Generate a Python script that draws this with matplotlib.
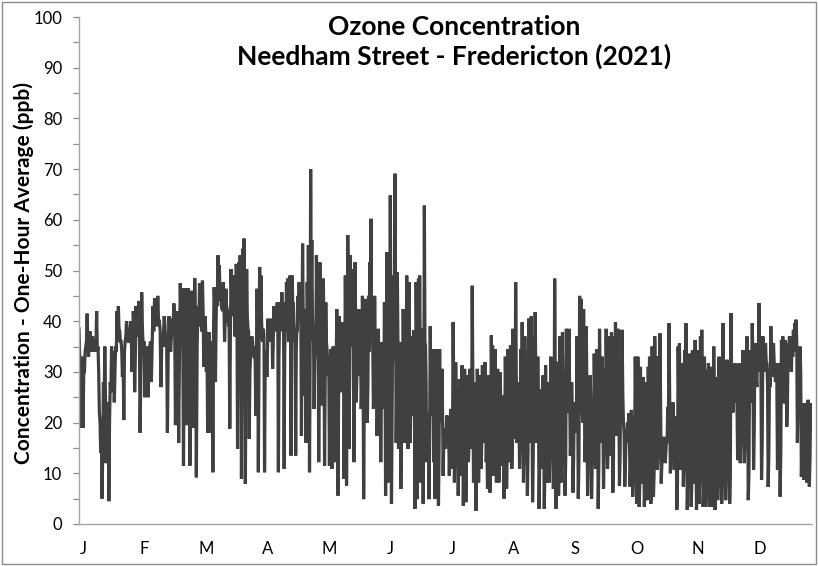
import numpy as np
import matplotlib
matplotlib.use("Agg")
import matplotlib.pyplot as plt
from matplotlib.patches import Rectangle
from matplotlib.ticker import MultipleLocator

# Hourly ozone (ppb), read per month from the reference picture.
# "peaks" lists follow the visible spikes / dips, "core" lists the dense dark band between them.
jan = [38.5, 19, 33, 19, 30, 35, 41.5, 33, 38, 34, 37, 34, 36, 42, 35, 22, 14, 5, 28, 35, 12, 20, 4.5, 28, 35,
       34, 24, 35, 42, 43, 38, 36, 29, 20.5, 36, 40, 37, 36, 40, 30, 42, 26, 43, 40, 44]
feb = [18, 45.7, 35, 25, 34.5, 25, 35, 28, 43, 44.5, 41, 45, 40, 27, 35, 41, 35, 18, 41, 34, 40.5, 43.5, 19.5,
       42, 16, 47.5, 46.5, 11.5, 46.5, 19.5, 46.5, 11.5, 46, 19, 48.5, 9.2, 43, 47.5]
mar = [39.8, 48, 31, 41, 30, 18, 37.8, 18, 29, 10.2, 46.7, 28, 46.7, 53, 51, 46.4, 42.4, 47.7, 36, 46.4, 42.4,
       39.8, 18.8, 50.3, 42.4, 49, 37, 51.3, 14.8, 51.6, 53, 8.9, 54.3, 56.3, 7.9, 50.3, 38.5, 16.8, 33, 37, 33,
       32.6, 21.4, 46.4, 10.2, 50.7, 49]
apr = [36.5, 38.5, 10.2, 33, 29, 40.5, 38.5, 37, 40.5, 30.6, 43, 39.8, 43, 43.7, 10.2, 39.8, 43.7, 45.7, 43.7,
       10.9, 38.5, 47.7, 48.4, 35.9, 49, 13.5, 49, 43.7, 35.9, 13.5, 38.5, 45, 47.7, 47, 17.4, 55.3, 42.4, 25.3,
       16, 47.7, 55, 10.2, 70, 56, 37, 22.7, 34.5, 53, 39.8, 12.2, 51.6, 23.4, 47.7]
may = [48.4, 11.5, 43.7, 34.5, 29.3, 11.5, 34.5, 10.9, 35, 12.2, 17.4, 42.4, 5.6, 41, 26, 39.8, 36.8, 8.9, 49,
       7.6, 57, 14.8, 53, 41, 50.3, 12.2, 51.6, 24, 42.4, 29.3, 42.4, 22.7, 45, 4.9, 44.4, 33, 20, 45, 51.6, 60.2,
       41, 22.7, 45, 33, 17.4, 38.5, 29.3, 12.2, 35.9, 22.7]
jun = [43.7, 5.6, 53.6, 8.2, 37.8, 64.8, 4, 39.8, 49, 69.1, 16, 49.7, 14.8, 35.9, 6.9, 34.5, 42.4, 16, 35.9, 49,
       14.8, 47.7, 16, 37, 21.4, 38.2, 3, 47.7, 4.9, 48.4, 49, 8.2, 38.5, 4, 62.8, 35.2, 12.2, 17.4, 4.9, 39, 21.4,
       34.5, 12.2, 5, 34.5, 17.4, 3.6, 34.5, 24, 30.6, 9.5, 18.8]
jul = [14.8, 21.4, 17.4, 9.5, 22.7, 10.9, 39.8, 8.2, 31.9, 16.8, 5.6, 28.6, 9.5, 31.3, 3.6, 30.6, 4.3, 29.3,
       12.2, 30.6, 14.8, 47, 8.2, 28, 2.6, 30.6, 8.2, 29.3, 10.9, 31.3, 16, 31.9, 12.2, 7, 29.3, 6.2, 37.2, 35.2,
       9.5, 34.5, 8.2, 30.6, 8.2, 29.9, 11.5, 25.3, 5, 33]
aug = [7, 34.5, 12.2, 35.2, 10.9, 38.5, 16.8, 47.7, 16, 27.9, 10.9, 34.5, 39.8, 8.2, 37, 27.9, 5.6, 40.5, 16, 41,
       4.3, 37, 41.8, 16, 33, 3, 26.6, 10.9, 29.3, 3, 31.3, 8.2, 28, 8.2, 33, 32, 6.9, 48.4, 3, 32, 5.6, 37, 8.2,
       37.8, 14.8, 5.6, 38.5]
sep = [29.3, 38.5, 13.5, 28, 6.2, 24, 18.8, 37, 5, 45, 44.4, 22, 42.4, 12.2, 39, 5.6, 20, 29.3, 5, 14.8, 33.6,
       10.9, 34.5, 3, 38.5, 16, 33, 7, 30.6, 38.5, 10.9, 37, 13.5, 37.8, 6.2, 37, 39.8, 17.4, 38.5, 7.5, 32.6,
       38.3, 20, 7.4, 18, 20]
oct_ = [21.8, 7.4, 22.5, 5.4, 16, 33, 4, 33, 3.4, 31, 8, 29, 3.4, 27.9, 4.7, 31, 33, 4, 35, 5.4, 37, 33, 10.7,
        33, 37.6, 8, 16.4, 17.2, 12, 16.4, 23, 39.6, 10, 20, 24, 10.7, 21.2, 2.8, 35, 35.6, 10.7, 31.7, 7.4,
        34.3, 39.6, 2.8, 31.7]
nov = [33.6, 3.4, 34.3, 8, 36.3, 2.8, 34.3, 4, 37, 38.3, 3.4, 33, 3.4, 30.4, 31.7, 3.4, 31, 3.4, 35, 2.8, 29,
       4.7, 33, 32.4, 4, 39.6, 25, 4.7, 32.4, 31.7, 4, 41.6, 26.4, 30.4, 31.7, 28.4, 12.6, 31.7, 12, 29, 34.3, 12,
       31.7, 37, 4.7, 30.4]
dec = [34.3, 39.6, 10.7, 35.7, 29, 35, 43.6, 37, 8.7, 37, 34.3, 35.7, 31.7, 7.3, 30.4, 39, 31.7, 35.7, 30.4,
       31.7, 10.7, 31.7, 5.4, 36.3, 37, 23.8, 36.3, 19.2, 35.7, 37, 31.7, 37, 38.3, 39.6, 40.3, 16, 34.3, 35, 9.3,
       23.8, 8.7, 23.8, 8.2, 24.5, 7.4, 23.8]

jan_core = [33, 28, 32, 30, 34, 36, 36, 35, 37, 36, 35, 36, 35, 34, 30, 20, 18, 15, 22, 25, 18, 24, 20, 26, 30,
            32, 30, 34, 36, 38, 36, 34, 33, 34, 37, 38, 36, 37, 38, 35, 38, 33, 38, 37, 38]
feb_core = [30, 38, 36, 33, 35, 34, 36, 35, 38, 40, 39, 40, 38, 36, 37, 39, 37, 34, 38, 37, 38, 40, 36, 40, 33,
            40, 41, 35, 41, 36, 40, 34, 40, 36, 40, 35, 39, 40]
mar_core = [38, 42, 36, 38, 34, 30, 34, 32, 36, 38, 42, 40, 43, 45, 44, 43, 42, 44, 40, 43, 41, 40, 38, 44, 41,
            43, 40, 44, 36, 43, 44, 34, 42, 44, 32, 41, 38, 30, 36, 36, 35, 34, 33, 38, 34, 40, 40]
apr_core = [36, 37, 30, 34, 34, 37, 37, 36, 38, 35, 39, 38, 39, 40, 33, 38, 40, 41, 40, 34, 38, 42, 42, 38, 42,
            35, 42, 40, 37, 34, 38, 40, 41, 41, 36, 42, 40, 34, 33, 40, 42, 32, 44, 42, 36, 32, 35, 40, 37, 30,
            40, 33, 38]
may_core = [38, 28, 36, 32, 30, 28, 32, 28, 32, 28, 30, 36, 26, 35, 30, 34, 33, 28, 36, 26, 40, 30, 38, 35, 38,
            30, 38, 30, 34, 30, 34, 28, 34, 24, 34, 30, 28, 34, 38, 40, 34, 28, 34, 30, 26, 32, 28, 24, 30, 26]
jun_core = [32, 20, 36, 22, 30, 40, 20, 32, 36, 42, 26, 36, 26, 30, 20, 28, 32, 24, 30, 34, 24, 34, 24, 30, 24,
            30, 18, 34, 18, 34, 34, 20, 30, 18, 36, 28, 20, 22, 16, 28, 22, 26, 18, 16, 26, 20, 14, 24, 20, 22,
            16, 18]
jul_core = [18, 20, 18, 16, 20, 16, 26, 15, 24, 18, 14, 22, 15, 22, 13, 22, 14, 22, 16, 22, 17, 26, 15, 22, 13,
            22, 15, 22, 16, 22, 18, 23, 17, 14, 22, 14, 25, 24, 16, 24, 15, 22, 15, 22, 16, 20, 14, 24]
aug_core = [15, 24, 17, 25, 16, 26, 19, 28, 20, 23, 16, 25, 27, 15, 26, 23, 14, 28, 20, 28, 13, 26, 28, 20, 24,
            12, 22, 16, 22, 12, 23, 15, 22, 15, 24, 24, 14, 28, 12, 24, 14, 26, 15, 26, 18, 13, 26]
sep_core = [22, 26, 18, 22, 13, 20, 18, 26, 13, 30, 30, 20, 28, 17, 26, 13, 18, 22, 12, 16, 24, 15, 25, 12, 26,
            18, 24, 14, 22, 26, 15, 26, 16, 26, 13, 26, 27, 18, 26, 14, 24, 26, 18, 12, 16, 18]
oct_core = [18, 12, 18, 10, 15, 22, 9, 22, 8, 21, 12, 20, 8, 19, 9, 21, 22, 9, 24, 10, 24, 22, 14, 22, 24, 12,
            16, 16, 14, 16, 19, 24, 13, 18, 20, 14, 18, 8, 24, 24, 14, 21, 12, 22, 25, 8, 20]
nov_core = [22, 8, 22, 12, 24, 8, 22, 9, 24, 24, 8, 22, 8, 20, 21, 8, 20, 8, 22, 8, 20, 9, 22, 22, 9, 26, 20, 10,
            24, 24, 10, 28, 22, 24, 25, 24, 16, 25, 16, 24, 27, 16, 25, 28, 10, 24]
dec_core = [28, 32, 18, 30, 27, 30, 34, 32, 16, 32, 30, 32, 28, 14, 27, 32, 29, 32, 28, 29, 18, 29, 14, 31, 32,
            25, 32, 24, 32, 33, 30, 33, 34, 35, 36, 24, 30, 30, 16, 22, 14, 21, 14, 22, 13, 20]

peaks = [jan, feb, mar, apr, may, jun, jul, aug, sep, oct_, nov, dec]
cores = [jan_core, feb_core, mar_core, apr_core, may_core, jun_core, jul_core, aug_core, sep_core, oct_core,
         nov_core, dec_core]
month_labels = ["J", "F", "M", "A", "M", "J", "J", "A", "S", "O", "N", "D"]

title = "Ozone Concentration\nNeedham Street - Fredericton (2021)"
ylabel = "Concentration - One-Hour Average (ppb)"

# order readings in time: each spike reading followed by the band reading after it
xs, ys = [], []
for m, (pk, co) in enumerate(zip(peaks, cores)):
    seq = []
    for i in range(max(len(pk), len(co))):
        if i < len(pk):
            seq.append(pk[i])
        if i < len(co):
            seq.append(co[i])
    n = len(seq)
    xs.extend(m + np.arange(n) / n)
    ys.extend(seq)

plt.rcParams["font.family"] = ["Lato", "DejaVu Sans"]

fig = plt.figure(figsize=(8.18, 5.66), dpi=100)
ax = fig.add_axes([79 / 818, 1 - 524 / 566, (812 - 79) / 818, (524 - 17) / 566])

ax.plot(xs, ys, color="#404040", lw=2.3, solid_joinstyle="miter")

ax.set_xlim(0, 12)
ax.set_ylim(0, 100)
ax.yaxis.set_major_locator(MultipleLocator(10))
ax.yaxis.set_minor_locator(MultipleLocator(5))
ax.tick_params(axis="y", which="both", direction="out", length=4, width=0.9, color="#8c8c8c",
               labelsize=12, pad=8, labelcolor="black")
ax.set_xticks(0.065 + np.arange(12) * 1.007)
ax.set_xticklabels(month_labels)
ax.tick_params(axis="x", length=0, labelsize=12, pad=12)

for s in ["top", "right"]:
    ax.spines[s].set_visible(False)
for s in ["left", "bottom"]:
    ax.spines[s].set_color("#a6a6a6")
    ax.spines[s].set_linewidth(1.0)

ax.set_ylabel(ylabel, fontsize=15, fontweight="bold")
ax.yaxis.set_label_coords(-0.062, 0.495)

fig.text(0.555, 0.973, title, ha="center", va="top", fontsize=19, fontweight="bold",
         linespacing=1.22)

fig.patches.append(Rectangle((0.003, 0.004), 0.994, 0.993, transform=fig.transFigure,
                             fill=False, edgecolor="#8c8c8c", linewidth=1.0))

fig.savefig("out.png", dpi=100)
